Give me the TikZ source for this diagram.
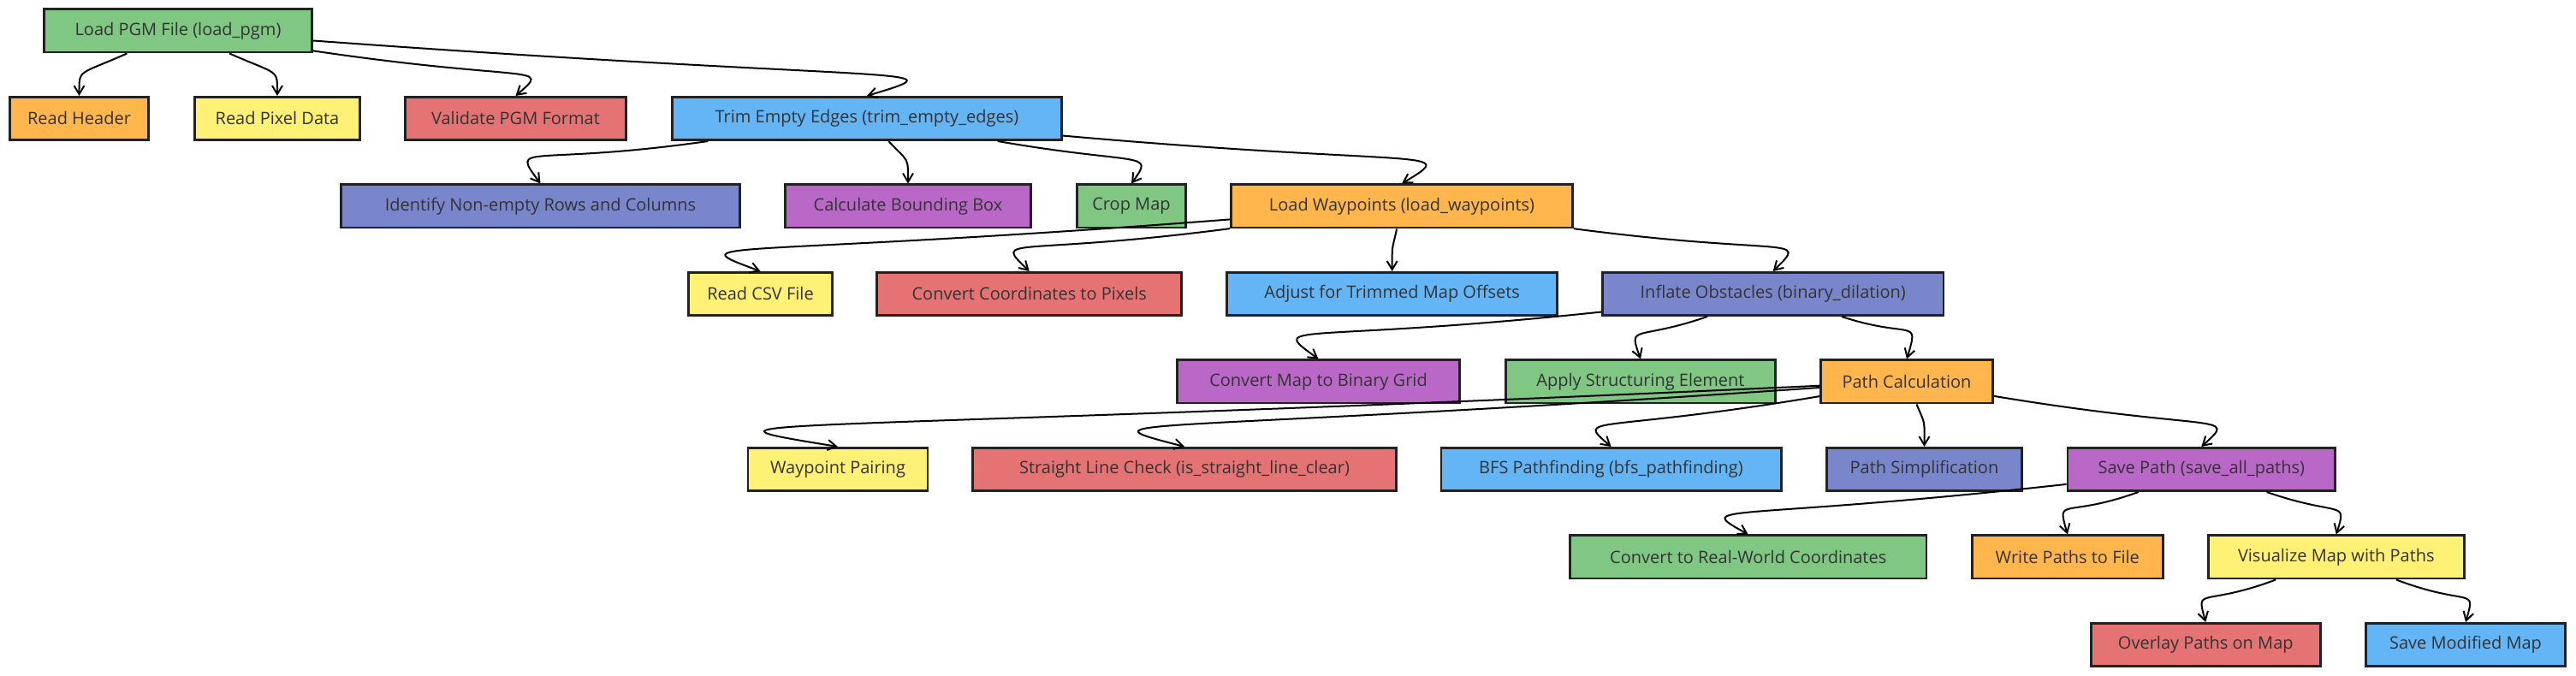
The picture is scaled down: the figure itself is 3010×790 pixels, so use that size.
\documentclass[tikz,border=0pt]{standalone}
\usepackage{fontspec}
\setmainfont{Open Sans}
\usetikzlibrary{arrows.meta,calc}
\definecolor{c0}{HTML}{81C784}
\definecolor{c1}{HTML}{FFB74D}
\definecolor{c2}{HTML}{FFF176}
\definecolor{c3}{HTML}{E57373}
\definecolor{c4}{HTML}{64B5F6}
\definecolor{c5}{HTML}{7986CB}
\definecolor{c6}{HTML}{BA68C8}
\definecolor{boxline}{HTML}{222222}
\definecolor{txt}{HTML}{333333}

\begin{document}
\begin{tikzpicture}[x=0.5pt,y=-0.5pt,
box/.style={draw=boxline,line width=1.3pt,text=txt,inner sep=0pt,minimum height=25.2pt,font=\fontsize{10}{12}\selectfont},
flow/.style={line width=1pt,-{Straight Barb[length=5pt,width=6pt]}}]
 \useasboundingbox (0,0) rectangle (3010,790);
 \foreach \n/\x/\r/\w/\t [count=\i from 0] in {
  pgm/208/0/316/{Load PGM File (load\_pgm)},
  hdr/92.5/1/165/{Read Header},
  pix/324/1/196/{Read Pixel Data},
  val/602.5/1/261/{Validate PGM Format},
  trim/1013/1/458/{Trim Empty Edges (trim\_empty\_edges)},
  idf/631.5/2/469/{Identify Non-empty Rows and Columns},
  bbox/1061/2/290/{Calculate Bounding Box},
  crop/1322/2/130/{Crop Map},
  wpt/1638/2/402/{Load Waypoints (load\_waypoints)},
  csv/888.5/3/171/{Read CSV File},
  cvt/1202.7/3/358.5/{Convert Coordinates to Pixels},
  adj/1626.7/3/388.5/{Adjust for Trimmed Map Offsets},
  infl/2071.7/3/401.5/{Inflate Obstacles (binary\_dilation)},
  bin/1540.5/4/333/{Convert Map to Binary Grid},
  sel/1917/4/318/{Apply Structuring Element},
  pcalc/2228/4/203.5/{Path Calculation},
  pair/979/5/212.5/{Waypoint Pairing},
  sline/1384/5/498/{Straight Line Check (is\_straight\_line\_clear)},
  bfs/1882.5/5/400/{BFS Pathfinding (bfs\_pathfinding)},
  simp/2248.5/5/231/{Path Simplification},
  save/2572.3/5/315.4/{Save Path (save\_all\_paths)},
  real/2042.7/6/419.5/{Convert to Real-World Coordinates},
  wrt/2415.8/6/225.6/{Write Paths to File},
  vis/2729.8/6/301.5/{Visualize Map with Paths},
  ovl/2577.3/7/270.7/{Overlay Paths on Map},
  smod/2881/7/236/{Save Modified Map}}
 {\pgfmathtruncatemacro\k{mod(\i,7)}
  \node[box,fill=c\k,minimum width={\w*0.5pt-1.3pt}] (\n) at (\x,{36+102.5*\r}) {\t};}
 % edges: parent/child/first control/second control
 \foreach \p/\c/\ax/\ay/\bx/\by in {
  pgm/hdr/91/88/92.5/80, pgm/pix/326/88/324/80,
  pgm/val/620/97/646/74.5, pgm/trim/1059/98/1129.5/77,
  trim/idf/617/195/595/165, trim/bbox/1062/190/1061/183,
  trim/crop/1333/194/1350/176, trim/wpt/1666/196/1708/172.5,
  wpt/csv/848/302/787/279.5, wpt/cvt/1185/300/1158.5/274.5,
  wpt/adj/1626/295/1626.7/285, wpt/infl/2089/300/2115/274.5,
  infl/bin/1516/402/1479/375, infl/sel/1911/399/1902/378,
  infl/pcalc/2234/397/2243/370,
  pcalc/pair/893/508/764/487, pcalc/sline/1330/508/1249/487,
  pcalc/bfs/1865/507/1839/484.5, pcalc/simp/2250/497/2248.5/490,
  pcalc/save/2590/506/2616.5/482,
  save/real/2016/610/1976/587.5, save/wrt/2410.7/606.7/2403/579,
  save/vis/2735/605/2743/583,
  vis/ovl/2572.5/710/2565.5/684.5, vis/smod/2886/710/2893.5/684.5}
  \draw[flow] (\p) .. controls (\ax,\ay) and (\bx,\by) .. (\c.north);
\end{tikzpicture}
\end{document}
